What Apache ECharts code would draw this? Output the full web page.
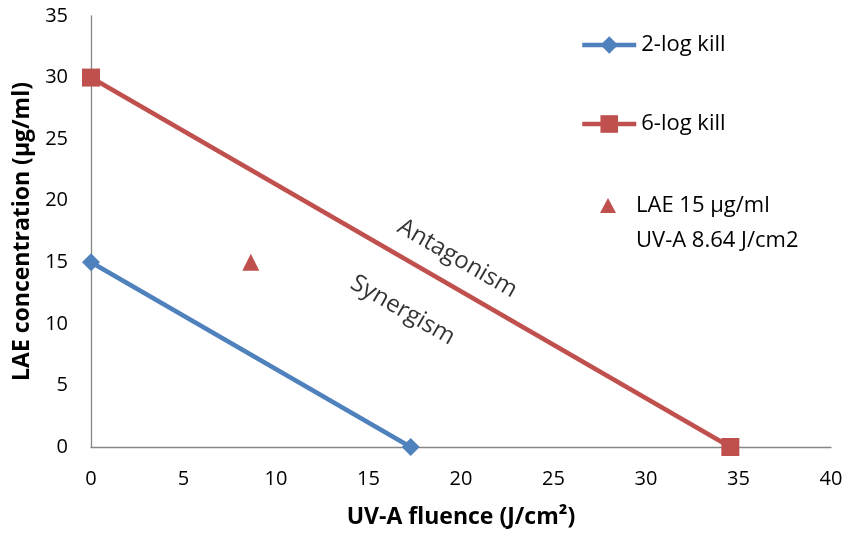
<!DOCTYPE html>
<html><head><meta charset="utf-8">
<script src="https://cdn.jsdelivr.net/npm/echarts@6/dist/echarts.min.js"></script>
<style>html,body{margin:0;padding:0;background:#fff}#c{width:847px;height:538px}</style>
</head><body><div id="c"></div>
<script>
const xTicks = [0,5,10,15,20,25,30,35,40];
const yTicks = [0,5,10,15,20,25,30,35];
const kill2 = [[0,15],[17.28,0]];
const kill6 = [[0,30],[34.56,0]];
const point = [[8.64,15]];
const pointName = 'LAE 15 μg/ml\nUV-A 8.64 J/cm2';
const annotations = [
  {name:'Antagonism', value:[19.8,15.3]},
  {name:'Synergism', value:[16.85,11.1]}
];
const FONT = '"Open Sans", "Noto Sans", sans-serif';
const chart = echarts.init(document.getElementById('c'));
chart.setOption({
  animation:false,
  backgroundColor:'#fff',
  textStyle:{fontFamily:FONT},
  grid:{left:91,right:16,top:16,bottom:91,containLabel:false},
  xAxis:{type:'value',min:0,max:40,interval:5,
    name:'UV-A fluence (J/cm²)',nameLocation:'middle',nameGap:59,
    nameTextStyle:{fontSize:23,fontWeight:'bold',color:'#000',fontFamily:FONT},
    axisLine:{show:true,lineStyle:{color:'#868686',width:1.3}},
    axisTick:{show:false},splitLine:{show:false},
    axisLabel:{fontSize:20,color:'#000',margin:22,fontFamily:FONT}},
  yAxis:{type:'value',min:0,max:35,interval:5,
    name:'LAE concentration (μg/ml)',nameLocation:'middle',nameGap:54,
    nameTextStyle:{fontSize:23,fontWeight:'bold',color:'#000',fontFamily:FONT},
    axisLine:{show:true,lineStyle:{color:'#868686',width:1.3}},
    axisTick:{show:false},splitLine:{show:false},
    axisLabel:{fontSize:20,color:'#000',margin:23,fontFamily:FONT}},
  legend:[
    {data:['2-log kill'],left:580,top:34,padding:0,itemWidth:54,itemHeight:22,
      lineStyle:{width:4.5},
      textStyle:{fontSize:22,color:'#000'}},
    {data:['6-log kill'],left:580,top:113,padding:0,itemWidth:54,itemHeight:22,
      lineStyle:{width:4.5},
      textStyle:{fontSize:22,color:'#000'}},
    {data:[{name:pointName,icon:'path://M8,0L16,15L0,15Z M8,50L8.01,50Z'}],
      left:600,top:188,padding:0,itemWidth:16,itemHeight:50,
      textStyle:{fontSize:22,color:'#000',lineHeight:35,padding:[0,0,0,15]}}
  ],
  series:[
    {name:'2-log kill',type:'line',data:kill2,symbol:'diamond',symbolSize:18,
      lineStyle:{color:'#4F81BD',width:4.5},itemStyle:{color:'#4F81BD'}},
    {name:'6-log kill',type:'line',data:kill6,symbol:'rect',symbolSize:18,
      lineStyle:{color:'#C0504D',width:4.5},itemStyle:{color:'#C0504D'}},
    {name:pointName,type:'scatter',data:point,symbol:'triangle',symbolSize:17,
      itemStyle:{color:'#C0504D',opacity:1}},
    {name:'ann',type:'scatter',symbolSize:0,silent:true,
      data:annotations,
      label:{show:true,position:'inside',rotate:-30,fontSize:24,color:'#000',fontFamily:FONT,
        formatter:p=>p.name}}
  ]
});
</script></body></html>
